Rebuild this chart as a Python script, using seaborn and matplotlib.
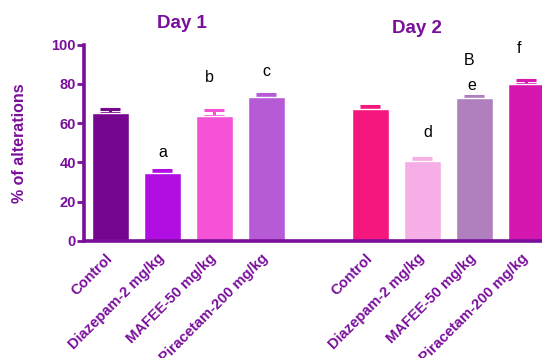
import matplotlib
matplotlib.use("Agg")
import matplotlib.pyplot as plt
import seaborn as sns
import pandas as pd

# ---- data ----
groups = ["D1 Control", "D1 Diazepam", "D1 MAFEE", "D1 Piracetam",
          "D2 Control", "D2 Diazepam", "D2 MAFEE", "D2 Piracetam"]
tick_labels = ["Control", "Diazepam-2 mg/kg", "MAFEE-50 mg/kg", "Piracetam-200 mg/kg",
               "Control", "Diazepam-2 mg/kg", "MAFEE-50 mg/kg", "Piracetam-200 mg/kg"]
positions = [0, 1, 2, 3, 5, 6, 7, 8]
means = [65.4, 34.8, 63.5, 73.4, 67.4, 40.8, 72.8, 80.0]
errors = [1.7, 1.4, 3.1, 1.5, 1.4, 1.3, 0.9, 2.0]
bar_colors = ["#75078f", "#b00ee3", "#f552d6", "#b65ad6",
              "#f5177e", "#f5aee6", "#b080be", "#d517b0"]
letters = ["a", "b", "c", "d", "B", "e", "f"]
letter_x = [1.0, 1.9, 3.0, 6.1, 6.9, 6.95, 7.85]
letter_y = [45.3, 83.5, 86.6, 55.5, 91.7, 79.0, 98.3]
titles = ["Day 1", "Day 2"]
title_x = [1.38, 5.9]
title_y = [111.0, 108.5]

df = pd.DataFrame({"group": groups, "pos": positions, "mean": means})

purple = "#7a0f9c"
sns.set_theme(style="white")
plt.rcParams["font.family"] = ["Liberation Sans", "DejaVu Sans"]

fig = plt.figure(figsize=(5.42, 3.58), dpi=100)
ax = fig.add_axes([84.3 / 542, 1 - 241 / 358, 1 - 84.3 / 542, (241 - 44.7) / 358])

sns.barplot(data=df, x="pos", y="mean", hue="group", palette=dict(zip(groups, bar_colors)),
            native_scale=True, dodge=False, width=0.71, saturation=1, legend=False,
            errorbar=None, ax=ax, zorder=2)

for p, m, e, c in zip(positions, means, errors, bar_colors):
    ax.errorbar(p, m, yerr=[[0], [e]], color=c, capsize=7.2, capthick=2.2,
                elinewidth=2.2, zorder=1.5)

ax.set_xlim(-0.502, 8.30)
ax.set_ylim(0, 100)
ax.set_yticks([0, 20, 40, 60, 80, 100])
ax.set_xticks(positions)
ax.set_xticklabels(tick_labels, rotation=45, ha="right", va="center",
                   rotation_mode="anchor", fontweight="bold", color=purple, fontsize=10.5)
for lab in ax.get_yticklabels():
    lab.set_fontweight("bold")
    lab.set_color(purple)
    lab.set_fontsize(10.5)
ax.tick_params(axis="y", length=5, width=2, color=purple, pad=1, left=True)
ax.tick_params(axis="x", length=0, pad=11)
ax.set_xlabel("")
ax.set_ylabel("")

for side in ["top", "right"]:
    ax.spines[side].set_visible(False)
for side in ["left", "bottom"]:
    ax.spines[side].set_color(purple)
    ax.spines[side].set_linewidth(2.6)
    ax.spines[side].set_zorder(3)

for t, x, y in zip(letters, letter_x, letter_y):
    ax.text(x, y, t, ha="center", va="center", fontsize=11.5, color="black", clip_on=False)
for t, x, y in zip(titles, title_x, title_y):
    ax.text(x, y, t, ha="center", va="center", fontsize=13.5, fontweight="bold",
            color=purple, clip_on=False)

fig.text(20 / 542, 1 - 143 / 358, "% of alterations", rotation=90, ha="center", va="center",
         fontsize=11.5, fontweight="bold", color=purple)

fig.savefig("out.png", dpi=100)
